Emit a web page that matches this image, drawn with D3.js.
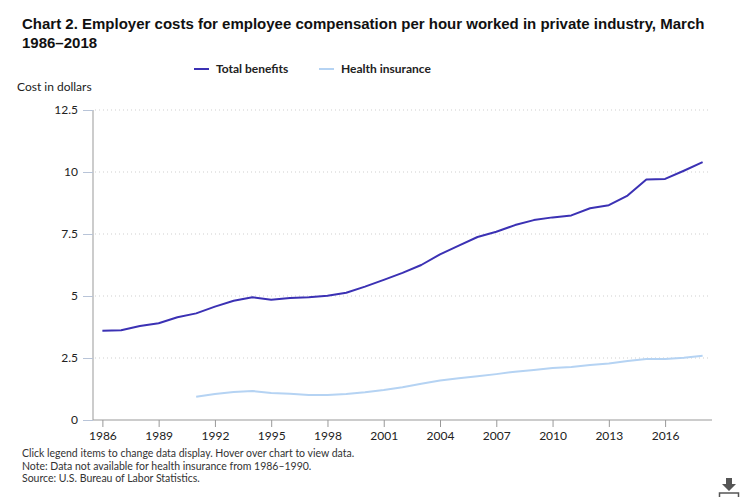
<!DOCTYPE html>
<html>
<head>
<meta charset="utf-8">
<script src="https://cdn.jsdelivr.net/npm/d3@7"></script>
<style>
  body { margin: 0; background: #fff; }
  svg { display: block; }
  .title { font-family: "Liberation Sans", Arial, sans-serif; font-weight: bold; font-size: 15px; fill: #111; }
  .lbl { font-family: Lato, "Open Sans", sans-serif; fill: #222; }
  .axis text { font-family: Lato, "Open Sans", sans-serif; font-size: 12px; fill: #222; }
</style>
</head>
<body>
<svg width="749" height="497"></svg>
<script>
// years on the category axis
var years = d3.range(1986, 2019);

var totalBenefits = [3.60, 3.62, 3.79, 3.90, 4.14, 4.30, 4.57, 4.81, 4.95, 4.85,
    4.92, 4.95, 5.01, 5.13, 5.38, 5.65, 5.93, 6.25, 6.68, 7.03,
    7.38, 7.59, 7.86, 8.06, 8.17, 8.25, 8.54, 8.66, 9.05, 9.70,
    9.72, 10.05, 10.40];

// null = not available (1986-1990)
var healthInsurance = [null, null, null, null, null, 0.94, 1.05, 1.13, 1.17, 1.09,
    1.06, 1.01, 1.01, 1.05, 1.12, 1.21, 1.32, 1.46, 1.59, 1.68,
    1.76, 1.85, 1.95, 2.02, 2.10, 2.14, 2.22, 2.28, 2.38, 2.46,
    2.46, 2.51, 2.59];

var yTicks = [0, 2.5, 5, 7.5, 10, 12.5];
var xTickYears = [1986, 1989, 1992, 1995, 1998, 2001, 2004, 2007, 2010, 2013, 2016];

var series = [
    { name: "Total benefits", values: totalBenefits, color: "#3b31b4", width: 2 },
    { name: "Health insurance", values: healthInsurance, color: "#b5d3f3", width: 2 }
];

var svg = d3.select("svg");

var x = d3.scaleLinear().domain([1985.5, 2018.5]).range([93, 712]);
var y = d3.scaleLinear().domain([0, 12.5]).range([420, 110]);

// title
svg.append("text").attr("class", "title").attr("x", 22).attr("y", 29)
    .text("Chart 2. Employer costs for employee compensation per hour worked in private industry, March");
svg.append("text").attr("class", "title").attr("x", 22).attr("y", 48).text("1986\u20132018");

// legend
var lx = [194, 319];
series.forEach(function(s, i) {
    svg.append("line").attr("x1", lx[i]).attr("x2", lx[i] + 15).attr("y1", 69).attr("y2", 69)
        .attr("stroke", s.color).attr("stroke-width", 2);
    svg.append("text").attr("class", "lbl").attr("x", lx[i] + 22).attr("y", 73)
        .style("font-size", "12px").style("font-weight", "bold").text(s.name);
});

svg.append("text").attr("class", "lbl").attr("x", 17).attr("y", 91)
    .style("font-size", "12px").text("Cost in dollars");

// grid
svg.append("g").selectAll("line").data(yTicks.filter(function(d) { return d > 0; }))
    .enter().append("line")
    .attr("x1", 95).attr("x2", 710)
    .attr("y1", function(d) { return y(d); }).attr("y2", function(d) { return y(d); })
    .attr("stroke", "#cfcfcf").attr("stroke-dasharray", "1,3");

// y axis
var yAxis = svg.append("g").attr("class", "axis").attr("transform", "translate(93,0)")
    .call(d3.axisLeft(y).tickValues(yTicks).tickSize(10).tickPadding(5)
        .tickFormat(function(d) { return d; }));
yAxis.select(".domain").attr("stroke", "#999").attr("d", "M0,110V420");
yAxis.selectAll(".tick line").attr("stroke", "#b8c4d8");

// x axis
var xAxis = svg.append("g").attr("class", "axis").attr("transform", "translate(0,420)")
    .call(d3.axisBottom(x).tickValues(xTickYears).tickSize(7).tickPadding(4)
        .tickFormat(d3.format("d")));
xAxis.select(".domain").attr("stroke", "#999").attr("d", "M93,0H712");
xAxis.selectAll(".tick line").attr("stroke", "#999");

// lines
var line = d3.line()
    .defined(function(d) { return d.v != null; })
    .x(function(d) { return x(d.year); })
    .y(function(d) { return y(d.v); });

series.slice().reverse().forEach(function(s) {
    var pts = years.map(function(yr, i) { return { year: yr, v: s.values[i] }; });
    svg.append("path").datum(pts).attr("d", line)
        .attr("fill", "none").attr("stroke", s.color).attr("stroke-width", s.width)
        .attr("stroke-linejoin", "round");
});

// notes
var notes = [
    "Click legend items to change data display. Hover over chart to view data.",
    "Note: Data not available for health insurance from 1986\u20131990.",
    "Source: U.S. Bureau of Labor Statistics."
];
svg.append("g").selectAll("text").data(notes).enter().append("text")
    .attr("class", "lbl").attr("x", 22)
    .attr("y", function(d, i) { return 457 + i * 12.5; })
    .style("font-size", "10.5px").style("fill", "#333")
    .text(function(d) { return d; });

// download icon
svg.append("path").attr("d", "M726,478h6v6h4l-7,7l-7,-7h4z").attr("fill", "#555");
svg.append("path").attr("d", "M719.5,497v-4h19v4").attr("fill", "none").attr("stroke", "#555").attr("stroke-width", 1.5);
</script>
</body>
</html>
